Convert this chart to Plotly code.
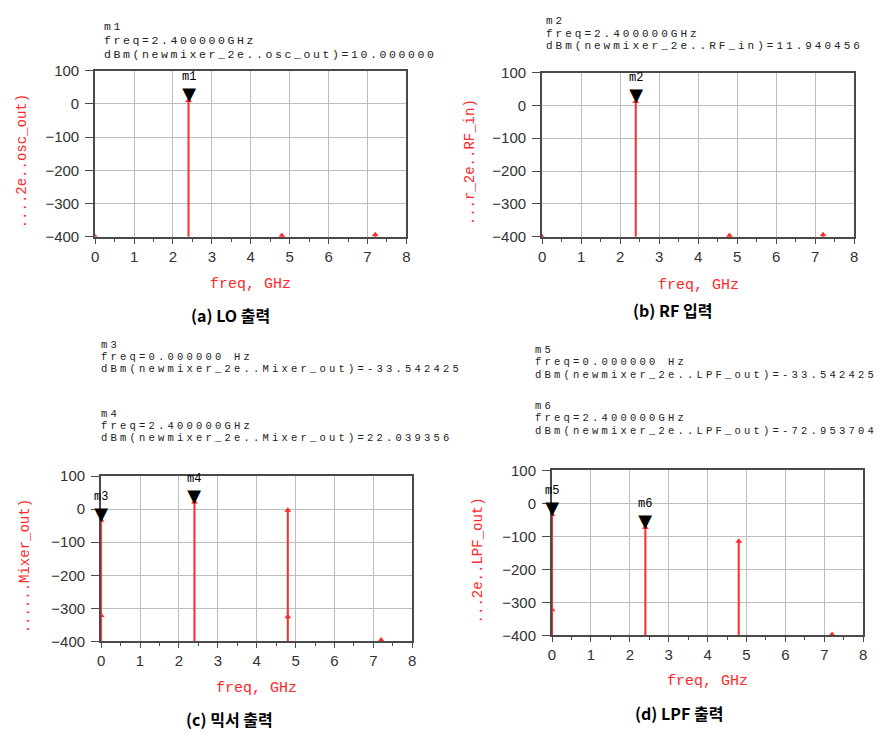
import plotly.graph_objects as go

W, H = 889, 749

# ---------------- data ----------------
freq_lo = [0.0, 2.4, 4.8, 7.2]
dbm_lo = [-400.0, 10.0, -396.0, -394.0]

freq_rf = [0.0, 2.4, 4.8, 7.2]
dbm_rf = [-400.0, 11.94, -396.0, -394.0]

freq_mix = [0.0, 2.4, 4.8, 7.2]
dbm_mix = [-33.54, 22.04, -3.0, -396.0]
freq_mix_extra = [0.0, 4.8]
dbm_mix_extra = [-322.0, -326.0]

freq_lpf = [0.0, 2.4, 4.8, 7.2]
dbm_lpf = [-33.54, -72.95, -115.0, -397.0]
freq_lpf_extra = [0.0]
dbm_lpf_extra = [-322.0]

y_ticks = [-400, -300, -200, -100, 0, 100]
x_ticks = [0, 1, 2, 3, 4, 5, 6, 7, 8]

ylabels = ["....2e..osc_out)", "...r_2e..RF_in)", "......Mixer_out)", "...2e..LPF_out)"]
captions = ["(a) LO 출력", "(b) RF 입력", "(c) 믹서 출력", "(d) LPF 출력"]

markers = [
    [("m1", 2.4, 10.0)],
    [("m2", 2.4, 11.94)],
    [("m3", 0.0, -33.54), ("m4", 2.4, 22.04)],
    [("m5", 0.0, -33.54), ("m6", 2.4, -72.95)],
]
readouts = [
    [["m1", "freq=2.400000GHz", "dBm(newmixer_2e..osc_out)=10.000000"]],
    [["m2", "freq=2.400000GHz", "dBm(newmixer_2e..RF_in)=11.940456"]],
    [["m3", "freq=0.000000 Hz", "dBm(newmixer_2e..Mixer_out)=-33.542425"],
     ["m4", "freq=2.400000GHz", "dBm(newmixer_2e..Mixer_out)=22.039356"]],
    [["m5", "freq=0.000000 Hz", "dBm(newmixer_2e..LPF_out)=-33.542425"],
     ["m6", "freq=2.400000GHz", "dBm(newmixer_2e..LPF_out)=-72.953704"]],
]

# ---------------- layout geometry (pixels) ----------------
boxes = [  # left, right, top, bottom
    (92, 406, 63, 233),
    (543, 858, 65, 233),
    (98, 412, 478, 647),
    (553, 867, 472, 641),
]
# x, block centre y's, base font (sets line spacing), glyph font, letter spacing
readout_pos = [
    (100, [32], 10.6, 11.5, 2.6),
    (546, [25], 9.8, 11, 3.0),
    (97, [356, 427], 9.3, 10.5, 3.2),
    (535, [362, 419], 9.6, 10.5, 3.2),
]
ylabel_x = [19, 471, 21, 478]
xlabel_y = [282, 283, 695, 688]
caption_pos = [(229, 313), (675, 308), (228, 727), (681, 720)]

RED = "#ff2a2a"
MONO = "Liberation Mono, DejaVu Sans Mono, monospace"


def px(x):
    return x / W


def py(y):
    return 1 - y / H


fig = go.Figure()
series = [
    (freq_lo, dbm_lo, [], []),
    (freq_rf, dbm_rf, [], []),
    (freq_mix, dbm_mix, freq_mix_extra, dbm_mix_extra),
    (freq_lpf, dbm_lpf, freq_lpf_extra, dbm_lpf_extra),
]

annotations = []
for i, (fx, fy, ex, ey) in enumerate(series):
    xa = "x" if i == 0 else f"x{i+1}"
    ya = "y" if i == 0 else f"y{i+1}"
    sx, sy = [], []
    for f, v in zip(fx, fy):
        sx += [f, f, None]
        sy += [-400, v, None]
    fig.add_trace(go.Scatter(x=sx, y=sy, mode="lines", line=dict(color=RED, width=2),
                             xaxis=xa, yaxis=ya, showlegend=False, hoverinfo="skip"))
    fig.add_trace(go.Scatter(x=fx + ex, y=fy + ey, mode="markers",
                             marker=dict(symbol="triangle-up", size=6, color=RED),
                             xaxis=xa, yaxis=ya, showlegend=False))
    l, r, t, b = boxes[i]
    axk = "xaxis" if i == 0 else f"xaxis{i+1}"
    ayk = "yaxis" if i == 0 else f"yaxis{i+1}"
    fig.update_layout(**{
        axk: dict(domain=[px(l), px(r)], anchor=ya, range=[0, 8], tickvals=x_ticks,
                  showgrid=True, gridcolor="#bdbdbd", gridwidth=1,
                  showline=True, mirror=True, linecolor="#4a4a4a", linewidth=2,
                  ticks="outside", ticklen=5, tickcolor="#4a4a4a",
                  minor=dict(dtick=0.5, ticks="outside", ticklen=3, tickcolor="#4a4a4a", showgrid=False),
                  tickfont=dict(family="Liberation Sans, Arial", size=15, color="#333"),
                  zeroline=False, fixedrange=True),
        ayk: dict(domain=[py(b), py(t)], anchor=xa, range=[-400, 100], tickvals=y_ticks,
                  showgrid=True, gridcolor="#bdbdbd", gridwidth=1,
                  showline=True, mirror=True, linecolor="#4a4a4a", linewidth=2,
                  ticks="outside", ticklen=8, tickcolor="#4a4a4a", ticklabelstandoff=3,
                  tickfont=dict(family="Liberation Sans, Arial", size=15, color="#333"),
                  zeroline=False, fixedrange=True),
    })
    # markers: label stacked over a down-pointing triangle
    for name, f, v in markers[i]:
        annotations.append(dict(x=f, y=v, xref=xa, yref=ya,
                                text=(f"<span style='font-size:12px'>{name}</span><br>"
                                      "<span style='font-size:18px;font-family:DejaVu Sans'>▼</span>"),
                                showarrow=False, xanchor="center", yanchor="bottom", yshift=-5,
                                borderpad=0,
                                font=dict(size=15, color="black", family=MONO)))
    # readouts: one annotation per block
    rx, centres, base, glyph, ls = readout_pos[i]
    for k, block in enumerate(readouts[i]):
        txt = "<br>".join(f"<span style='font-size:{glyph}px;letter-spacing:{ls}px'>{ln}</span>"
                          for ln in block)
        annotations.append(dict(x=px(rx), y=py(centres[k]), xref="paper", yref="paper",
                                text=txt, showarrow=False, xanchor="left", yanchor="middle",
                                align="left", borderpad=0,
                                font=dict(size=base, color="#222", family=MONO)))
    # axis titles
    annotations.append(dict(x=px(ylabel_x[i]), y=py((t + b) / 2 + 8), xref="paper", yref="paper",
                            text=ylabels[i], showarrow=False, textangle=-90,
                            xanchor="center", yanchor="middle",
                            font=dict(size=14, color=RED, family=MONO)))
    annotations.append(dict(x=px((l + r) / 2), y=py(xlabel_y[i]), xref="paper", yref="paper",
                            text="freq, GHz", showarrow=False, xanchor="center", yanchor="middle",
                            font=dict(size=15, color=RED, family=MONO)))
    cx, cy = caption_pos[i]
    annotations.append(dict(x=px(cx), y=py(cy), xref="paper", yref="paper",
                            text="<b>" + captions[i] + "</b>", showarrow=False,
                            xanchor="center", yanchor="middle",
                            font=dict(size=16, color="black", family="Noto Sans CJK KR")))

fig.update_layout(width=W, height=H, margin=dict(l=0, r=0, t=0, b=0),
                  paper_bgcolor="white", plot_bgcolor="white",
                  annotations=annotations, showlegend=False)

fig.write_html("out.html")
